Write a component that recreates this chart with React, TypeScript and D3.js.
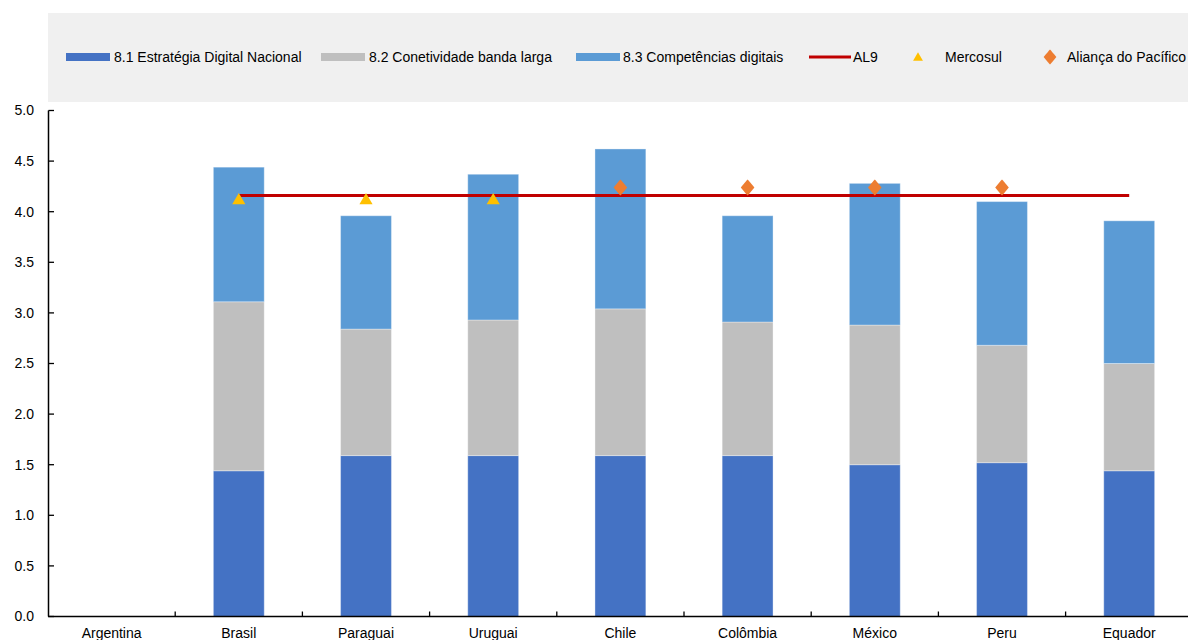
import React from "react";
import * as d3 from "d3";

const categories = ["Argentina", "Brasil", "Paraguai", "Uruguai", "Chile", "Colômbia", "México", "Peru", "Equador"];
const estrategia: (number | null)[] = [null, 1.44, 1.59, 1.59, 1.59, 1.59, 1.5, 1.52, 1.44];
const conetividade: (number | null)[] = [null, 1.67, 1.25, 1.34, 1.45, 1.32, 1.38, 1.16, 1.06];
const competencias: (number | null)[] = [null, 1.33, 1.12, 1.44, 1.58, 1.05, 1.4, 1.42, 1.41];
const al9: (number | null)[] = [null, 4.16, 4.16, 4.16, 4.16, 4.16, 4.16, 4.16, 4.16];
const mercosul: (number | null)[] = [null, 4.12, 4.12, 4.12, null, null, null, null, null];
const alianca: (number | null)[] = [null, null, null, null, 4.24, 4.24, 4.24, 4.24, null];
const yTicks = [0, 0.5, 1, 1.5, 2, 2.5, 3, 3.5, 4, 4.5, 5];

const seriesNames = ["8.1 Estratégia Digital Nacional", "8.2 Conetividade banda larga", "8.3 Competências digitais"];
const seriesValues = [estrategia, conetividade, competencias];
const colors = ["#4472C4", "#BFBFBF", "#5B9BD5"];
const lineColor = "#C00000";
const triColor = "#FFC000";
const diaColor = "#ED7D31";

const W = 1188;
const H = 640;
const font = "'Liberation Sans', Arial, sans-serif";

export default function App() {
  const x = d3.scaleBand<string>().domain(categories).range([48, 1192.8]).padding(0);
  const y = d3.scaleLinear().domain([0, 5]).range([616.5, 110.5]);
  const bw = x.bandwidth() * 0.4;
  const cx = (c: string) => (x(c) as number) + x.bandwidth() / 2;

  const stacked = categories.map((c, i) => {
    let acc = 0;
    return seriesValues.map((s, k) => {
      const v = s[i];
      if (v == null) return null;
      const y0 = acc;
      acc += v;
      return { c, k, y0, y1: acc };
    });
  });

  const linePts = categories
    .map((c, i) => (al9[i] == null ? null : ([cx(c), y(al9[i] as number)] as [number, number])))
    .filter((p): p is [number, number] => p != null);
  const lineGen = d3.line();

  const tri = d3.symbol().type(d3.symbolTriangle).size(75)();
  const diamondPath = (s: number) => `M0,${-s}Q1.5,${-s + 1.5} ${s * 0.85},0Q1.5,${s - 1.5} 0,${s}Q-1.5,${s - 1.5} ${-s * 0.85},0Q-1.5,${-s + 1.5} 0,${-s}Z`;

  const legendY = 57;
  const legendItems = [
    { type: "rect", color: colors[0], label: seriesNames[0], x: 66, tx: 114 },
    { type: "rect", color: colors[1], label: seriesNames[1], x: 321, tx: 369 },
    { type: "rect", color: colors[2], label: seriesNames[2], x: 576, tx: 623 },
    { type: "line", color: lineColor, label: "AL9", x: 809, tx: 853 },
    { type: "tri", color: triColor, label: "Mercosul", x: 918, tx: 945 },
    { type: "dia", color: diaColor, label: "Aliança do Pacífico", x: 1050, tx: 1067 },
  ];

  return (
    <svg width={W} height={H} style={{ position: "absolute", left: 0, top: 0, background: "#fff" }} fontFamily={font}>
      <rect x={48} y={13} width={1140} height={89} fill="#F0F0F0" />
      {legendItems.map((it, i) => (
        <g key={i}>
          {it.type === "rect" && <rect x={it.x} y={legendY - 4} width={44} height={8} fill={it.color} />}
          {it.type === "line" && <line x1={it.x} x2={it.x + 42} y1={legendY} y2={legendY} stroke={it.color} strokeWidth={3} />}
          {it.type === "tri" && <path d={tri} transform={`translate(${it.x},${legendY + 1}) scale(0.75)`} fill={it.color} />}
          {it.type === "dia" && <path d={diamondPath(7.5)} transform={`translate(${it.x},${legendY})`} fill={it.color} />}
          <text x={it.tx} y={legendY} dy="0.35em" fontSize={14} fill="#000">{it.label}</text>
        </g>
      ))}

      {stacked.map((bars, i) =>
        bars.map((b) =>
          b == null ? null : (
            <rect
              key={`${i}-${b.k}`}
              x={cx(b.c) - bw / 2}
              y={y(b.y1)}
              width={bw}
              height={y(b.y0) - y(b.y1)}
              fill={colors[b.k]}
              stroke="#ffffff"
              strokeOpacity={0.35}
              strokeWidth={1}
            />
          )
        )
      )}

      <path d={lineGen(linePts) || ""} fill="none" stroke={lineColor} strokeWidth={3} />

      {categories.map((c, i) =>
        mercosul[i] == null ? null : (
          <path key={`m${i}`} d={tri} transform={`translate(${cx(c)},${y(mercosul[i] as number) + 1})`} fill={triColor} />
        )
      )}
      {categories.map((c, i) =>
        alianca[i] == null ? null : (
          <path key={`a${i}`} d={diamondPath(8)} transform={`translate(${cx(c)},${y(alianca[i] as number)})`} fill={diaColor} />
        )
      )}

      {/* y axis */}
      <line x1={48.5} x2={48.5} y1={y(5)} y2={y(0)} stroke="#000" strokeWidth={1.5} />
      {yTicks.map((t) => (
        <g key={t}>
          <line x1={48.5} x2={54} y1={y(t)} y2={y(t)} stroke="#000" strokeWidth={1.3} />
          <text x={34} y={y(t)} dy="0.35em" textAnchor="end" fontSize={14} fill="#000">
            {d3.format(".1f")(t)}
          </text>
        </g>
      ))}

      {/* x axis */}
      <line x1={48} x2={1192.8} y1={y(0)} y2={y(0)} stroke="#000" strokeWidth={1.5} />
      {categories.slice(1).map((c) => (
        <line key={c} x1={x(c) as number} x2={x(c) as number} y1={y(0)} y2={y(0) - 5} stroke="#000" strokeWidth={1.3} />
      ))}
      {categories.map((c) => (
        <text key={c} x={cx(c)} y={638} textAnchor="middle" fontSize={14} fill="#000">
          {c}
        </text>
      ))}
    </svg>
  );
}
